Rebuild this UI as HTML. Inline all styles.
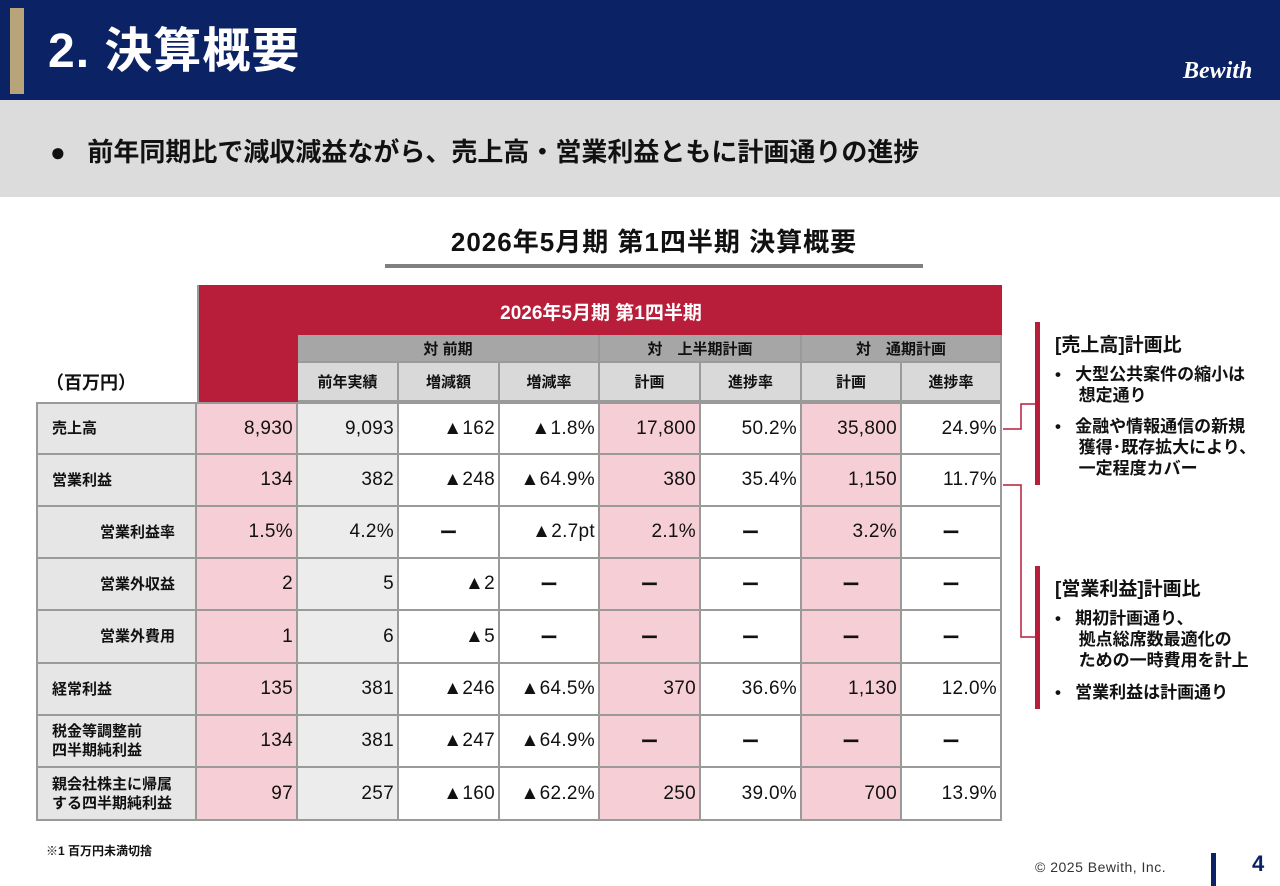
<!DOCTYPE html>
<html><head><meta charset="utf-8"><style>
*{margin:0;padding:0;box-sizing:border-box}
body{width:1280px;height:886px;position:relative;background:#fff;font-family:"Liberation Sans","Noto Sans CJK JP",sans-serif;color:#111;overflow:hidden}
.a{position:absolute}
.c{position:absolute;display:flex;align-items:center;font-size:17px;border-right:2px solid #9a9a9a;border-bottom:2px solid #9a9a9a}
.num{justify-content:flex-end;padding-right:3px;font-size:19px;letter-spacing:0.3px}
.ctr{justify-content:center}
.lab{padding-left:14px;font-size:15px;font-weight:bold;line-height:19px}
.bul{font-size:17px;font-weight:bold;line-height:21px}
</style></head><body>
<div class="a" style="left:0;top:0;width:1280px;height:100px;background:#0b2265"></div>
<div class="a" style="left:10px;top:8px;width:14px;height:86px;background:#b8a47a"></div>
<div class="a" style="left:48px;top:22px;font-size:48px;font-weight:bold;color:#fff;line-height:60px;letter-spacing:1px">2. 決算概要</div>
<div class="a" style="left:1183px;top:58px;font-size:24px;font-weight:bold;font-style:italic;color:#fff;font-family:'Liberation Serif',serif">Bewith</div>
<div class="a" style="left:0;top:100px;width:1280px;height:97px;background:#dcdcdc"></div>
<div class="a" style="left:50px;top:136px;font-size:26px;font-weight:bold;line-height:32px">●&nbsp;&nbsp;&nbsp;前年同期比で減収減益ながら、売上高・営業利益ともに計画通りの進捗</div>
<div class="a" style="left:385px;width:538px;top:226px;text-align:center;font-size:26px;font-weight:bold;line-height:32px;letter-spacing:1px">2026年5月期 第1四半期 決算概要</div>
<div class="a" style="left:385px;top:264px;width:538px;height:4px;background:#808080"></div>
<div class="a" style="left:46px;top:369px;font-size:18px;font-weight:bold">（百万円）</div>
<div class="a" style="left:197px;top:285px;width:805px;height:50px;background:#b81d3a;border-left:2px solid #9a9a9a"></div>
<div class="a" style="left:197px;top:335px;width:101px;height:67px;background:#b81d3a;border-left:2px solid #9a9a9a"></div>
<div class="a" style="left:200px;top:298px;width:802px;text-align:center;color:#fff;font-size:19px;font-weight:bold">2026年5月期 第1四半期</div>
<div id="tbl"></div>
<svg class="a" style="left:0;top:0" width="1280" height="886">
<polyline points="1003,429 1021,429 1021,404 1037,404" fill="none" stroke="#b81d3a" stroke-width="1.5"/>
<polyline points="1003,485 1021,485 1021,637 1037,637" fill="none" stroke="#b81d3a" stroke-width="1.5"/>
<rect x="1035" y="322" width="5" height="163" fill="#b81d3a"/>
<rect x="1035" y="566" width="5" height="143" fill="#b81d3a"/>
<rect x="1211" y="853" width="5" height="33" fill="#0b2265"/>
</svg>
<div class="a" style="left:1055px;top:330px;font-size:19px;font-weight:bold">[売上高]計画比</div>
<div class="a bul" style="left:1055px;top:364px">•&nbsp;&nbsp;&nbsp;大型公共案件の縮小は<br>&nbsp;&nbsp;&nbsp;&nbsp;&nbsp;想定通り</div>
<div class="a bul" style="left:1055px;top:416px">•&nbsp;&nbsp;&nbsp;金融や情報通信の新規<br>&nbsp;&nbsp;&nbsp;&nbsp;&nbsp;獲得･既存拡大により、<br>&nbsp;&nbsp;&nbsp;&nbsp;&nbsp;一定程度カバー</div>
<div class="a" style="left:1055px;top:574px;font-size:19px;font-weight:bold">[営業利益]計画比</div>
<div class="a bul" style="left:1055px;top:608px">•&nbsp;&nbsp;&nbsp;期初計画通り、<br>&nbsp;&nbsp;&nbsp;&nbsp;&nbsp;拠点総席数最適化の<br>&nbsp;&nbsp;&nbsp;&nbsp;&nbsp;ための一時費用を計上</div>
<div class="a bul" style="left:1055px;top:682px">•&nbsp;&nbsp;&nbsp;営業利益は計画通り</div>
<div class="a" style="left:46px;top:842px;font-size:12px;font-weight:bold">※1 百万円未満切捨</div>
<div class="a" style="left:1035px;top:859px;font-size:14px;color:#333;letter-spacing:0.5px">© 2025 Bewith, Inc.</div>
<div class="a" style="left:1252px;top:851px;font-size:22px;font-weight:bold;color:#0b2265">4</div>
<script>
const rowLabels=["売上高","営業利益","営業利益率","営業外収益","営業外費用","経常利益","税金等調整前<br>四半期純利益","親会社株主に帰属<br>する四半期純利益"];
const indent=[0,0,1,1,1,0,0,0];
const current=["8,930","134","1.5%","2","1","135","134","97"];
const prevYear=["9,093","382","4.2%","5","6","381","381","257"];
const diffAmt=["▲162","▲248","－","▲2","▲5","▲246","▲247","▲160"];
const diffRate=["▲1.8%","▲64.9%","▲2.7pt","－","－","▲64.5%","▲64.9%","▲62.2%"];
const halfPlan=["17,800","380","2.1%","－","－","370","－","250"];
const halfProg=["50.2%","35.4%","－","－","－","36.6%","－","39.0%"];
const fyPlan=["35,800","1,150","3.2%","－","－","1,130","－","700"];
const fyProg=["24.9%","11.7%","－","－","－","12.0%","－","13.9%"];
const colHeads=["前年実績","増減額","増減率","計画","進捗率","計画","進捗率"];
const groups=["対 前期","対　上半期計画","対　通期計画"];
const cols=[current,prevYear,diffAmt,diffRate,halfPlan,halfProg,fyPlan,fyProg];
const colBg=["#f6ced5","#ececec","#fff","#fff","#f6ced5","#fff","#f6ced5","#fff"];
const xs=[197,298,399,500,600,701,802,902,1002];
const ys=[402,455,507,559,611,664,716,768,821];
const T=document.getElementById('tbl');
function cell(x,y,w,h,cls,html,bg){const d=document.createElement('div');d.className='c '+cls;d.style.cssText=`left:${x}px;top:${y}px;width:${w}px;height:${h}px;background:${bg}`;d.innerHTML=html;T.appendChild(d);return d;}
const gspan=[[1,4],[4,6],[6,8]];
groups.forEach((g,i)=>{const d=cell(xs[gspan[i][0]],335,xs[gspan[i][1]]-xs[gspan[i][0]],28,'ctr',g,'#a6a6a6');d.style.fontSize='15px';d.style.fontWeight='bold';

});
colHeads.forEach((h,i)=>{const d=cell(xs[i+1],363,xs[i+2]-xs[i+1],39,'ctr',h,'#d9d9d9');d.style.fontSize='15px';d.style.fontWeight='bold';

});
rowLabels.forEach((l,r)=>{const d=cell(36,ys[r],161,ys[r+1]-ys[r],'lab',l,'#e6e6e6');d.style.borderLeft='2px solid #9a9a9a';if(r==0)d.style.borderTop='2px solid #9a9a9a';if(indent[r])d.style.paddingLeft='62px';


cols.forEach((col,c)=>{const v=col[r];const isDash=v==='－';const e=cell(xs[c],ys[r],xs[c+1]-xs[c],ys[r+1]-ys[r],isDash?'ctr':'num',isDash?'ー':v,colBg[c]);if(isDash){e.style.fontWeight='bold';e.style.fontSize='18px';}if(r==0)e.style.borderTop='2px solid #9a9a9a';

});});
</script>
</body></html>
